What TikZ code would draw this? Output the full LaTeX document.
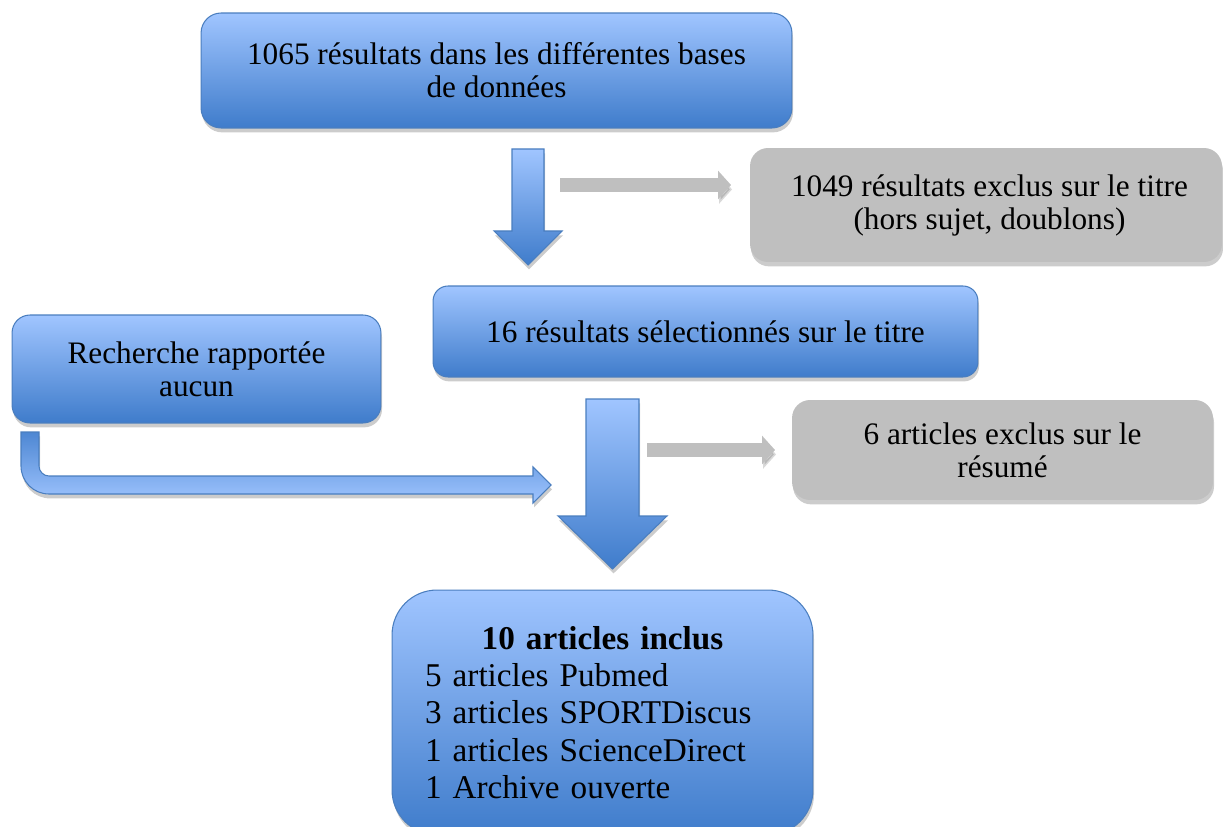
\documentclass[tikz,border=0pt]{standalone}
\usepackage{fontspec}
\setmainfont{Liberation Serif}
\usetikzlibrary{arrows.meta,calc}
\definecolor{boxtop}{HTML}{A0C5FF}
\definecolor{boxbot}{HTML}{3F7CCB}
\definecolor{boxline}{HTML}{4A7EBF}
\definecolor{exgray}{HTML}{BFBFBF}
\newcommand{\mainsz}{\fontsize{17.8}{18.8}\selectfont}
\newcommand{\inclsz}{\fontsize{18.9}{21.3}\selectfont}
\tikzset{
  softshadow/.style={preaction={fill=black, opacity=0.2, transform canvas={xshift=0.6pt, yshift=-2.5pt}}},
  lineshadow/.style={preaction={draw=black, opacity=0.15, transform canvas={xshift=0.6pt, yshift=-2.5pt}}},
  bluebox/.style={rectangle, rounded corners=#1, draw=boxline, line width=0.6pt, top color=boxtop, bottom color=boxbot,
    softshadow, inner sep=0pt, align=center, font=\mainsz},
  bluebox/.default=0.4cm,
  graybox/.style={rectangle, rounded corners=0.36cm, fill=exgray, softshadow, inner sep=0pt, align=center, font=\mainsz},
  blockarrow/.style={draw=boxline, line width=0.6pt, top color=boxtop, bottom color=boxbot, softshadow},
  bentarrow/.style={draw=boxline, line width=0.6pt, top color=boxbot!85!boxtop, bottom color=boxtop, softshadow},
  grayarrow/.style={draw=exgray, line width=0.28cm, -{Triangle[length=0.26cm, width=0.56cm]}, lineshadow},
}
% big down arrow: top, tip, half shaft, half head, head length
\newcommand{\blockdown}[5]{%
  \path[blockarrow] ($(#1)+(-#3,0)$) -- ($(#1)+(#3,0)$) -- ($(#2)+(#3,-#5)$) -- ($(#2)+(#4,-#5)$)
    -- (#2) -- ($(#2)+(-#4,-#5)$) -- ($(#2)+(-#3,-#5)$) -- cycle;}

\begin{document}
\begin{tikzpicture}[x=0.02cm, y=-0.02cm]
  \useasboundingbox (0,0) rectangle (1223,827);

  % boxes
  \node[bluebox, minimum width=11.82cm, minimum height=2.3cm] (base) at (496.5,70.5)
    {1065 résultats dans les différentes bases\\de données};
  \node[graybox, minimum width=9.44cm, minimum height=2.28cm] (excltitre) at (986,205)
    {\hspace{0.14cm}1049 résultats exclus sur le titre\\\hspace{0.14cm}(hors sujet, doublons)};
  \node[bluebox=0.3cm, minimum width=10.9cm, minimum height=1.82cm] (sel) at (705.5,331.5)
    {16 résultats sélectionnés sur le titre};
  \node[bluebox=0.36cm, minimum width=7.38cm, minimum height=2.16cm] (rech) at (196.5,369)
    {Recherche rapportée\\aucun};
  \node[graybox, minimum width=8.42cm, minimum height=2cm] (exclres) at (1002.5,450)
    {6 articles exclus sur le\\résumé};
  \node[bluebox=0.9cm, minimum width=8.42cm, minimum height=4.9cm, text width=7.1cm, align=left, font=\inclsz]
    (incl) at (602.5,712.5)
    {\makebox[7.1cm]{\textbf{10 articles inclus}}\\5 articles Pubmed\\3 articles SPORTDiscus\\1 articles ScienceDirect\\1 Archive ouverte};

  % arrows
  \coordinate (a1top) at (528,149);
  \coordinate (a1tip) at (528,265);
  \blockdown{a1top}{a1tip}{16}{34}{34}
  \coordinate (a2top) at (612.5,399);
  \coordinate (a2tip) at (612.5,569);
  \blockdown{a2top}{a2tip}{26.5}{54.5}{53}

  \coordinate (g1s) at (560,185);
  \coordinate (g1e) at (731,185);
  \draw[grayarrow] (g1s) -- (g1e);
  \coordinate (g2s) at (647,450);
  \coordinate (g2e) at (775,450);
  \draw[grayarrow] (g2s) -- (g2e);

  \path[bentarrow] (21,432) -- (39,432) -- (39,466) .. controls (39,471.5) and (43.5,476) .. (49,476)
    -- (533,476) -- (533,467) -- (551,485) -- (533,503) -- (533,494) -- (49,494)
    .. controls (33.5,494) and (21,481.5) .. (21,466) -- cycle;
\end{tikzpicture}
\end{document}
